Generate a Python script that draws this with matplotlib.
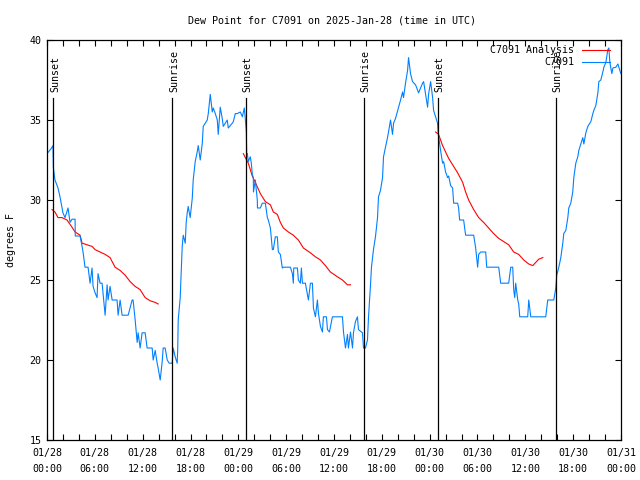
import numpy as np
import matplotlib
matplotlib.use("Agg")
import matplotlib.pyplot as plt

# hours since 01/28 00:00 UTC
obs_hours = [0.0, 0.5, 0.75, 0.8, 1.0, 1.38, 1.63, 1.88, 2.0, 2.26, 2.64, 2.89, 3.14, 3.52, 3.55,
             4.15, 4.4, 4.52, 4.77, 5.15, 5.4, 5.65, 5.78, 6.03, 6.28, 6.4, 6.66, 6.91, 7.29, 7.54,
             7.66, 7.91, 8.17, 8.79, 8.92, 9.17, 9.42, 10.18, 10.68, 10.8, 11.06, 11.31, 11.43, 11.68,
             11.93, 12.31, 12.56, 13.19, 13.32, 13.57, 13.82, 13.94, 14.2, 14.45, 14.57, 14.82, 15.08,
             15.33, 15.7, 15.83, 16.08, 16.33, 16.4, 16.46, 16.71, 16.83, 16.96, 17.09, 17.34, 17.46,
             17.59, 17.71, 17.96, 18.22, 18.34, 18.59, 18.84, 18.97, 19.22, 19.47, 19.6, 20.1, 20.23,
             20.48, 20.73, 20.85, 21.11, 21.36, 21.48, 21.73, 21.98, 22.11, 22.36, 22.61, 22.74, 23.24,
             23.37, 23.62, 23.87, 24.25, 24.5, 24.75, 24.87, 25.0, 25.05, 25.13, 25.25, 25.5, 25.63,
             25.75, 25.88, 25.9, 26.13, 26.38, 26.4, 26.76, 27.01, 27.39, 27.64, 27.76, 28.02, 28.27,
             28.39, 28.64, 28.89, 29.02, 29.27, 29.52, 29.65, 30.28, 30.53, 30.78, 30.9, 30.95, 31.41,
             31.53, 31.78, 31.91, 32.04, 32.41, 32.66, 32.79, 33.04, 33.29, 33.42, 33.67, 33.92, 34.05,
             34.3, 34.55, 34.67, 35.05, 35.18, 35.43, 35.8, 37.06, 37.19, 37.44, 37.69, 37.81, 38.07,
             38.32, 38.44, 38.69, 38.94, 39.07, 39.57, 39.7, 39.95, 40.2, 40.33, 40.58, 40.7, 40.95,
             41.2, 41.46, 41.58, 41.83, 42.09, 42.21, 42.46, 42.71, 42.84, 43.09, 43.34, 43.47, 43.72,
             44.1, 44.35, 44.6, 44.72, 44.97, 45.23, 45.35, 45.48, 45.6, 45.85, 46.23, 46.61, 47.11,
             47.24, 47.49, 47.74, 47.86, 48.12, 48.37, 48.49, 48.74, 48.99, 49.06, 49.37, 49.62, 49.75,
             50.0, 50.25, 50.38, 50.63, 50.88, 51.01, 51.51, 51.63, 51.76, 52.26, 52.51, 52.76, 53.52,
             53.77, 54.02, 54.15, 54.4, 55.03, 55.15, 56.66, 56.91, 57.91, 58.17, 58.42, 58.54, 58.67,
             58.79, 59.05, 59.17, 59.3, 60.3, 60.43, 60.68, 62.56, 62.81, 63.57, 63.82, 63.94, 64.2,
             64.45, 64.7, 64.82, 65.08, 65.33, 65.45, 65.7, 65.95, 66.08, 66.33, 66.58, 66.71, 66.96,
             67.21, 67.34, 67.59, 67.84, 67.96, 68.22, 68.47, 68.59, 68.84, 69.1, 69.22, 69.47, 69.72,
             69.85, 70.1, 70.35, 70.48, 70.6, 70.85, 70.98, 71.36, 71.61, 71.98]
obs_vals = [32.9, 33.2, 33.4, 32.0, 31.25, 30.75, 30.2, 29.5, 29.2, 28.9, 29.5, 28.6, 28.8, 28.8, 27.75,
            27.75, 27.1, 26.75, 25.8, 25.8, 24.8, 25.75, 24.6, 24.2, 23.9, 25.4, 24.8, 24.8, 22.8, 24.7,
            23.75, 24.6, 23.75, 23.75, 22.8, 23.75, 22.8, 22.8, 23.75, 23.75, 22.5, 21.1, 21.7, 20.75,
            21.7, 21.7, 20.75, 20.75, 20.0, 20.6, 19.8, 19.5, 18.75, 19.9, 20.75, 20.75, 20.0,
            19.8, 19.8, 20.75, 20.2, 19.8, 20.75, 22.5, 23.9, 25.5, 27.1, 27.8, 27.3, 28.6,
            29.2, 29.6, 28.9, 30.1, 31.25, 32.4, 33.0, 33.4, 32.5, 33.5, 34.6, 35.0, 35.4,
            36.6, 35.5, 35.75, 35.4, 35.0, 34.1, 35.8, 35.1, 34.6, 34.8, 35.0, 34.5, 34.8,
            34.9, 35.4, 35.4, 35.5, 35.2, 35.75, 35.1, 34.25, 32.9, 32.9, 32.4, 32.7, 32.3,
            31.6, 31.4, 30.5, 31.25, 30.0, 29.5, 29.5, 29.8, 29.8, 28.9, 28.75, 28.25, 26.9,
            26.9, 27.7, 27.7, 26.75, 26.6, 25.75, 25.8, 25.8, 25.8, 25.4, 24.8, 25.75, 25.75,
            25.0, 24.8, 25.75, 24.8, 24.8, 24.1, 23.75, 24.8, 24.8, 23.25, 22.7, 23.75, 22.9,
            22.1, 21.75, 22.7, 22.7, 21.9, 21.75, 22.7, 22.7, 21.75, 20.75, 21.6, 20.75, 21.75,
            20.75, 21.7, 22.4, 22.7, 21.9, 21.7, 20.75, 20.75, 21.25, 22.7, 24.7, 25.8, 26.9,
            27.7, 28.9, 30.2, 30.6, 31.4, 32.7, 33.3, 33.9, 34.25, 35.0, 34.1, 34.8, 35.1,
            35.8, 36.25, 36.75, 36.4, 37.3, 38.1, 38.9, 38.4, 37.9, 37.4, 37.2, 36.7, 37.3,
            37.4, 36.6, 35.8, 36.6, 37.4, 36.4, 35.6, 35.2, 34.8, 34.2, 33.1, 32.3, 32.4,
            31.75, 31.4, 31.5, 30.9, 30.75, 29.8, 29.8, 29.5, 28.75, 28.75, 27.8, 27.8, 27.8,
            27.0, 25.8, 26.6, 26.75, 26.75, 25.8, 25.8, 24.8, 24.8, 25.8, 25.8, 24.4, 23.9,
            24.8, 23.75, 23.5, 22.7, 22.7, 23.75, 22.7, 22.7, 23.75, 23.75, 24.5, 25.3, 25.8,
            26.4, 27.3, 27.9, 28.1, 28.9, 29.5, 29.8, 30.5, 31.4, 32.3, 32.7, 33.1, 33.5,
            33.9, 33.5, 34.2, 34.6, 34.7, 34.9, 35.4, 35.6, 35.9, 36.7, 37.4, 37.5, 38.0,
            38.3, 38.6, 39.4, 39.5, 38.6, 37.9, 38.25, 38.3, 38.5, 37.9]

# analysis runs (three separate overnight segments)
ana1_hours = [0.63, 1.0, 1.38, 1.88, 2.51, 3.14, 3.52, 4.15, 4.4, 5.03, 5.65, 6.03, 6.66, 7.29, 7.91,
              8.54, 9.17, 9.8, 10.43, 11.06, 11.68, 12.31, 12.94, 13.57, 13.94]
ana1_vals = [29.4, 29.25, 28.9, 28.9, 28.75, 28.3, 28.0, 27.8, 27.3, 27.2, 27.1, 26.9, 26.75, 26.6, 26.4,
             25.8, 25.6, 25.3, 24.9, 24.6, 24.4, 23.9, 23.7, 23.6, 23.5]
ana2_hours = [24.62, 25.25, 25.75, 26.13, 26.76, 27.39, 28.02, 28.39, 28.89, 29.27, 29.65, 30.28, 30.9,
              31.53, 32.16, 33.04, 33.67, 34.3, 34.92, 35.55, 36.43, 37.06, 37.69, 38.07]
ana2_vals = [32.9, 32.3, 31.5, 31.1, 30.4, 29.9, 29.7, 29.25, 29.1, 28.6, 28.25, 28.0, 27.8,
             27.5, 27.0, 26.7, 26.45, 26.25, 25.9, 25.5, 25.2, 25.0, 24.7, 24.7]
ana3_hours = [48.74, 49.12, 49.62, 50.0, 50.38, 50.88, 51.51, 52.14, 52.51, 52.89, 53.52, 54.15, 54.77,
              55.4, 56.03, 56.66, 57.29, 57.91, 58.54, 59.17, 59.8, 60.43, 60.93, 61.31, 61.68, 62.19]
ana3_vals = [34.25, 34.1, 33.4, 33.0, 32.6, 32.2, 31.7, 31.1, 30.5, 30.0, 29.4, 28.9, 28.6,
             28.25, 27.9, 27.6, 27.4, 27.2, 26.75, 26.6, 26.25, 26.0, 25.9, 26.1, 26.3, 26.4]

sun_hours = [0.79, 15.74, 24.96, 39.73, 49.03, 63.86]
sun_labels = ["Sunset", "Sunrise", "Sunset", "Sunrise", "Sunset", "Sunrise"]

tick_hours = list(range(0, 73, 6))
tick_labels = ["01/28\n00:00", "01/28\n06:00", "01/28\n12:00", "01/28\n18:00",
               "01/29\n00:00", "01/29\n06:00", "01/29\n12:00", "01/29\n18:00",
               "01/30\n00:00", "01/30\n06:00", "01/30\n12:00", "01/30\n18:00",
               "01/31\n00:00"]

plt.rcParams['font.family'] = ['DejaVu Sans Mono']
plt.rcParams['font.size'] = 7.2

fig = plt.figure(figsize=(6.4, 4.8), dpi=100)
ax = fig.add_axes([47 / 640, 40 / 480, 574 / 640, 400 / 480])

red = "#ff0000"
blue = "#0080ff"
for h, v in [(ana1_hours, ana1_vals), (ana2_hours, ana2_vals), (ana3_hours, ana3_vals)]:
    ax.plot(h, v, color=red, lw=0.8)
ax.plot(obs_hours, obs_vals, color=blue, lw=0.8)

# sunrise / sunset markers
for h, lab in zip(sun_hours, sun_labels):
    ax.plot([h, h], [15, 36.4], color="black", lw=0.9)
    ax.text(h + 0.2, 36.75, lab, rotation=90, ha="center", va="bottom")

ax.set_xlim(0, 72)
ax.set_ylim(15, 40)
ax.set_xticks(tick_hours)
ax.set_xticklabels(tick_labels, linespacing=1.65)
ax.set_xticks(range(0, 73, 2), minor=True)
ax.set_yticks([15, 20, 25, 30, 35, 40])
ax.tick_params(which="both", direction="in", top=True, right=True, length=4, width=0.8)
ax.tick_params(axis="x", pad=6)
ax.tick_params(axis="y", pad=4)
for s in ax.spines.values():
    s.set_linewidth(0.9)

ax.set_ylabel("degrees F", labelpad=10)
fig.text(0.519, 0.958, "Dew Point for C7091 on 2025-Jan-28 (time in UTC)", ha="center", va="center")

# gnuplot style key, right justified
ax.text(0.918, 0.976, "C7091 Analysis", transform=ax.transAxes, ha="right", va="center")
ax.plot([0.932, 0.981], [0.976, 0.976], color=red, lw=0.8, transform=ax.transAxes)
ax.text(0.918, 0.944, "C7091", transform=ax.transAxes, ha="right", va="center")
ax.plot([0.932, 0.981], [0.944, 0.944], color=blue, lw=0.8, transform=ax.transAxes)

fig.savefig("out.png", dpi=100)
